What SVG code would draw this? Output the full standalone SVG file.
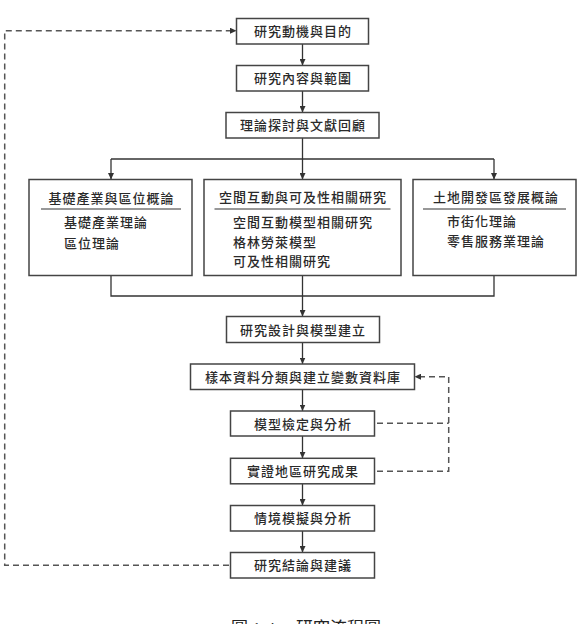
<svg xmlns="http://www.w3.org/2000/svg" width="579" height="624" viewBox="0 0 579 624">
<defs>
<marker id="ah" markerUnits="userSpaceOnUse" markerWidth="7" markerHeight="6" refX="6.5" refY="3" orient="auto">
<path d="M0,0 L6.5,3 L0,6 z" fill="#333"/>
</marker>
<style>
.box{fill:#fff;stroke:#444;stroke-width:1.5}
.t{font-family:"Noto Sans CJK TC","Noto Sans CJK SC",sans-serif;font-size:13px;font-weight:500;letter-spacing:1px;fill:#2a2a2a}
.c{text-anchor:middle}
.ln{fill:none;stroke:#333;stroke-width:1.3}
.ds{fill:none;stroke:#555;stroke-width:1.5;stroke-dasharray:6 4}
.sep{stroke:#333;stroke-width:1.2}
.cap{font-family:"Liberation Serif","Noto Sans CJK TC",serif;font-size:17px;fill:#222}
</style>
</defs>
<rect width="579" height="624" fill="#fff"/>

<g id="connectors">
<line class="ln" x1="302.5" y1="44" x2="302.5" y2="65.5" marker-end="url(#ah)"/>
<line class="ln" x1="302.5" y1="91" x2="302.5" y2="112.5" marker-end="url(#ah)"/>
<line class="ln" x1="302.5" y1="138" x2="302.5" y2="159"/>
<line class="ln" x1="111" y1="159" x2="494" y2="159"/>
<line class="ln" x1="111" y1="159" x2="111" y2="179.5" marker-end="url(#ah)"/>
<line class="ln" x1="302.5" y1="159" x2="302.5" y2="179.5" marker-end="url(#ah)"/>
<line class="ln" x1="494" y1="159" x2="494" y2="179.5" marker-end="url(#ah)"/>
<polyline class="ln" points="111,275.5 111,296 494,296 494,275.5"/>
<line class="ln" x1="302.5" y1="275.5" x2="302.5" y2="316.5" marker-end="url(#ah)"/>
<line class="ln" x1="302.5" y1="342.5" x2="302.5" y2="364" marker-end="url(#ah)"/>
<line class="ln" x1="302.5" y1="389.5" x2="302.5" y2="411" marker-end="url(#ah)"/>
<line class="ln" x1="302.5" y1="436" x2="302.5" y2="458.3" marker-end="url(#ah)"/>
<line class="ln" x1="302.5" y1="483.8" x2="302.5" y2="505.5" marker-end="url(#ah)"/>
<line class="ln" x1="302.5" y1="531" x2="302.5" y2="552.5" marker-end="url(#ah)"/>
<path class="ds" d="M229 565.3 H4.7 V30.7 H236.5" marker-end="url(#ah)"/>
<path class="ds" d="M377 471.3 H448.7 V376.7 H414.5" marker-end="url(#ah)"/>
<path class="ds" d="M377 423.3 H448.7"/>
</g>

<g id="n1"><rect class="box" x="236.5" y="18.5" width="132" height="25.5"/><text class="t c" x="303" y="36">研究動機與目的</text></g>
<g id="n2"><rect class="box" x="236.5" y="65.5" width="132" height="25.5"/><text class="t c" x="303" y="83">研究內容與範圍</text></g>
<g id="n3"><rect class="box" x="226" y="112.5" width="153" height="25.5"/><text class="t c" x="303" y="130">理論探討與文獻回顧</text></g>

<g id="pA"><rect class="box" x="29" y="179.5" width="163" height="96"/>
<text class="t c" x="111.5" y="202.5">基礎產業與區位概論</text>
<line class="sep" x1="41" y1="209" x2="181" y2="209"/>
<text class="t" x="64" y="227">基礎產業理論</text>
<text class="t" x="64" y="247.5">區位理論</text></g>

<g id="pB"><rect class="box" x="204" y="179.5" width="197" height="96"/>
<text class="t c" x="303" y="202">空間互動與可及性相關研究</text>
<line class="sep" x1="214.5" y1="209" x2="390.5" y2="209"/>
<text class="t" x="233" y="227">空間互動模型相關研究</text>
<text class="t" x="233" y="247">格林勞萊模型</text>
<text class="t" x="233" y="266">可及性相關研究</text></g>

<g id="pC"><rect class="box" x="413" y="179.5" width="163" height="96"/>
<text class="t c" x="496" y="201.5">土地開發區發展概論</text>
<line class="sep" x1="423" y1="209" x2="566" y2="209"/>
<text class="t" x="447" y="226">市街化理論</text>
<text class="t" x="447" y="245.5">零售服務業理論</text></g>

<g id="n4"><rect class="box" x="226.5" y="316.5" width="153" height="26"/><text class="t c" x="303" y="334.5">研究設計與模型建立</text></g>
<g id="n5"><rect class="box" x="190.5" y="364" width="224" height="25.5"/><text class="t c" x="303" y="381.5">樣本資料分類與建立變數資料庫</text></g>
<g id="n6"><rect class="box" x="230.5" y="411" width="144" height="25"/><text class="t c" x="303" y="428.5">模型檢定與分析</text></g>
<g id="n7"><rect class="box" x="230.5" y="458.3" width="144" height="25.5"/><text class="t c" x="303" y="476">實證地區研究成果</text></g>
<g id="n8"><rect class="box" x="230.5" y="505.5" width="144" height="25.5"/><text class="t c" x="303" y="523">情境模擬與分析</text></g>
<g id="n9"><rect class="box" x="230.5" y="552.5" width="144" height="25.5"/><text class="t c" x="303" y="570">研究結論與建議</text></g>

<text class="cap" y="634"><tspan x="231">圖 1-4</tspan><tspan x="296">研究流程圖</tspan></text>
</svg>
